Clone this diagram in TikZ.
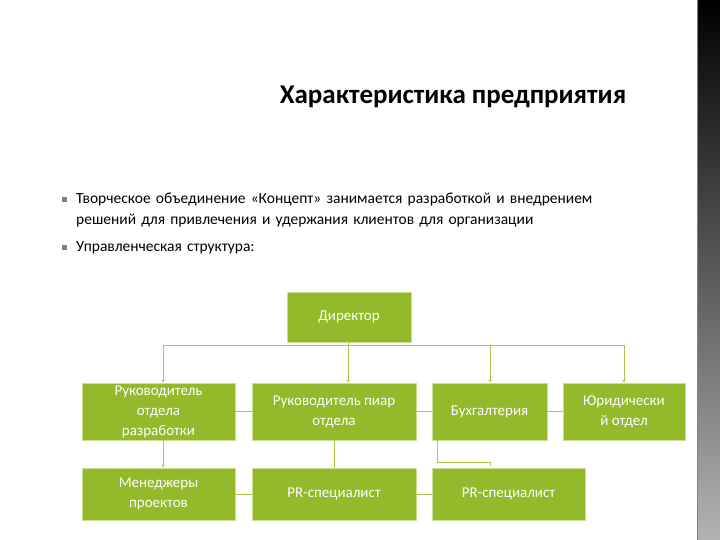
\documentclass[tikz,border=0pt]{standalone}
\usepackage{fontspec}
\setmainfont{Carlito}
\usetikzlibrary{arrows.meta}
\definecolor{gr}{RGB}{146,186,42}
\definecolor{ln}{RGB}{170,200,70}
\newcommand{\bsq}{\makebox[14pt][l]{\textcolor{gray}{\rule[2pt]{5pt}{5pt}}}}
\tikzset{box/.style={draw=ln!60!white,fill=gr,text=white,inner sep=1pt,align=center,font=\fontsize{15}{20}\selectfont},
con/.style={draw=ln,line width=0.8pt},
arr/.style={con,-{Stealth[length=3pt,width=3pt]}}}
\begin{document}
\begin{tikzpicture}[x=1pt,y=-1pt]
\useasboundingbox (0,0) rectangle (720,540);
\fill[white] (0,0) rectangle (720,540);
\shade[top color=black,bottom color=gray!60] (697,0) rectangle (720,540);
\draw[gray,line width=0.6pt] (697,0) -- (697,540);
\node[font=\bfseries\fontsize{27}{30}\selectfont] (t) at (453,97) {Характеристика предприятия};
\node[anchor=north west,text width=630pt,align=left,font=\fontsize{15.5}{21}\selectfont,inner sep=0pt] (b) at (62,193)
{\bsq Творческое объединение «Концепт» занимается разработкой и внедрением\\
\hspace*{14pt}решений для привлечения и удержания клиентов для организации\\[6pt]
\bsq Управленческая структура:};
\node[box,minimum width=124pt,minimum height=50pt] (d) at (349,317) {Директор};
\node[box,minimum width=153pt,minimum height=57pt] (r1) at (158.5,411.5) {Руководитель\\отдела\\разработки};
\node[box,minimum width=164pt,minimum height=57pt] (r2) at (334,411.5) {Руководитель пиар\\отдела};
\node[box,minimum width=115pt,minimum height=57pt] (r3) at (489.5,411.5) {Бухгалтерия};
\node[box,minimum width=122pt,minimum height=57pt] (r4) at (624,411.5) {Юридически\\й отдел};
\node[box,minimum width=153pt,minimum height=52pt] (m1) at (158.5,494) {Менеджеры\\проектов};
\node[box,minimum width=164pt,minimum height=52pt] (m2) at (334,494) {PR-специалист};
\node[box,minimum width=153pt,minimum height=52pt] (m3) at (508.5,494) {PR-специалист};
\coordinate (h) at (348,345);
\draw[con] (d.south) -- (h);
\draw[con] (163,345) -- (624,345);
\draw[arr] (163,345) -- (163,382.5);
\draw[arr] (348,345) -- (348,382.5);
\draw[arr] (490,345) -- (490,382.5);
\draw[arr] (624,345) -- (624,382.5);
\draw[con] (r1.east) -- (r2.west);
\draw[con] (r2.east) -- (r3.west);
\draw[con] (r3.east) -- (r4.west);
\draw[arr] (163,440) -- (163,467.5);
\draw[con] (334,440) -- (334,468);
\draw[con] (437,440) -- (437,462) -- (490,462) -- (490,466);
\draw[con] (m1.east) -- (m2.west);
\draw[con] (m2.east) -- (m3.west);
\end{tikzpicture}
\end{document}
